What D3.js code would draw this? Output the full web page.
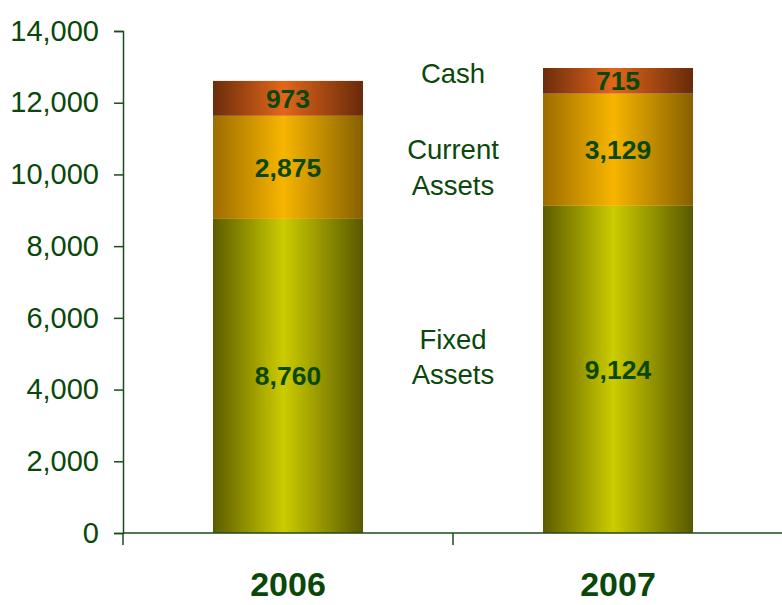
<!DOCTYPE html>
<html>
<head>
<meta charset="utf-8">
<script src="https://cdn.jsdelivr.net/npm/d3@7"></script>
<style>
  body { margin: 0; background: #fff; }
  text { font-family: "Liberation Sans", Arial, sans-serif; fill: #0a480a; }
</style>
</head>
<body>
<div id="chart"></div>
<script>
var svgWidth = 782;
var svgHeight = 605;

// data
var years = ["2006", "2007"];
var series = ["Fixed Assets", "Current Assets", "Cash"];
var fixedAssets = [8760, 9124];
var currentAssets = [2875, 3129];
var cash = [973, 715];
var yTicks = [0, 2000, 4000, 6000, 8000, 10000, 12000, 14000];
// where the series names sit (in axis units)
var seriesLabelAt = [4920, 10200, 12830];

var margin = { top: 31, right: 0, bottom: 72, left: 123 };
var height = svgHeight - margin.top - margin.bottom;

var svg = d3.select("#chart")
  .append("svg")
  .attr("width", svgWidth)
  .attr("height", svgHeight);

// gradients for each series (dark edges, bright middle)
var grads = [
  { id: "gFixed", edgeL: "#5c5c00", mid: "#cccc00", edgeR: "#585800" },
  { id: "gCurrent", edgeL: "#9c6c00", mid: "#f7b500", edgeR: "#866000" },
  { id: "gCash", edgeL: "#6c2c0c", mid: "#e2661a", edgeR: "#682a0a" }
];
var defs = svg.append("defs");
grads.forEach(function(g) {
  var lg = defs.append("linearGradient")
    .attr("id", g.id)
    .attr("x1", "0%").attr("x2", "100%")
    .attr("y1", "0%").attr("y2", "0%");
  lg.append("stop").attr("offset", "0%").attr("stop-color", g.edgeL);
  lg.append("stop").attr("offset", "47%").attr("stop-color", g.mid);
  lg.append("stop").attr("offset", "100%").attr("stop-color", g.edgeR);
});

var rows = years.map(function(y, i) {
  return { year: y, "Fixed Assets": fixedAssets[i], "Current Assets": currentAssets[i], "Cash": cash[i] };
});
var stacked = d3.stack().keys(series)(rows);

var x = d3.scaleBand()
  .domain(years)
  .range([margin.left, svgWidth + 1])
  .paddingInner(0.5455)
  .paddingOuter(0.2727);

var y = d3.scaleLinear()
  .domain([0, 14000])
  .range([margin.top + height, margin.top]);

// bars
stacked.forEach(function(layer, li) {
  svg.append("g")
    .selectAll("rect")
    .data(layer)
    .enter()
    .append("rect")
    .attr("x", d => x(d.data.year))
    .attr("y", d => y(d[1]))
    .attr("width", x.bandwidth())
    .attr("height", d => y(d[0]) - y(d[1]))
    .attr("fill", "url(#" + grads[li].id + ")");

  svg.append("g")
    .selectAll("text")
    .data(layer)
    .enter()
    .append("text")
    .attr("x", d => x(d.data.year) + x.bandwidth() / 2)
    .attr("y", d => y((d[0] + d[1]) / 2))
    .attr("dy", "0.36em")
    .attr("text-anchor", "middle")
    .style("font-size", "26.5px")
    .style("font-weight", "bold")
    .text(d => d3.format(",")(d[1] - d[0]));
});

// y axis
var leftAxis = d3.axisLeft(y)
  .tickValues(yTicks)
  .tickFormat(d3.format(","))
  .tickSize(9)
  .tickPadding(15);

var yAxisG = svg.append("g")
  .attr("transform", `translate(${margin.left}, 0)`)
  .call(leftAxis);
yAxisG.select(".domain").attr("stroke", "#1c4a1c").attr("stroke-width", 1.5);
yAxisG.selectAll(".tick line").attr("stroke", "#1c4a1c").attr("stroke-width", 1.5);
yAxisG.selectAll(".tick text")
  .style("font-size", "29px")
  .style("font-family", "'Liberation Sans', Arial, sans-serif")
  .attr("fill", "#0a480a");

// x axis line with ticks between categories
var xAxisG = svg.append("g");
xAxisG.append("line")
  .attr("x1", margin.left).attr("x2", svgWidth)
  .attr("y1", y(0)).attr("y2", y(0))
  .attr("stroke", "#1c4a1c").attr("stroke-width", 1.5);
var bounds = [x.range()[0], (x("2006") + x("2007") + x.bandwidth()) / 2];
xAxisG.selectAll("line.tk")
  .data(bounds)
  .enter()
  .append("line")
  .attr("class", "tk")
  .attr("x1", d => d).attr("x2", d => d)
  .attr("y1", y(0)).attr("y2", y(0) + 12)
  .attr("stroke", "#1c4a1c").attr("stroke-width", 1.5);

xAxisG.selectAll("text")
  .data(years)
  .enter()
  .append("text")
  .attr("x", d => x(d) + x.bandwidth() / 2)
  .attr("y", 596)
  .attr("text-anchor", "middle")
  .style("font-size", "34px")
  .style("font-weight", "bold")
  .text(d => d);

// series names between the bars
var midX = (x("2006") + x.bandwidth() + x("2007")) / 2;
series.forEach(function(name, i) {
  var words = name.split(" ");
  var t = svg.append("text")
    .attr("x", midX)
    .attr("y", y(seriesLabelAt[i]))
    .attr("text-anchor", "middle")
    .style("font-size", "27.5px");
  words.forEach(function(w, wi) {
    t.append("tspan")
      .attr("x", midX)
      .attr("dy", wi === 0 ? ((0.36 - (words.length - 1) * 0.65) + "em") : "1.3em")
      .text(w);
  });
});
</script>
</body>
</html>
